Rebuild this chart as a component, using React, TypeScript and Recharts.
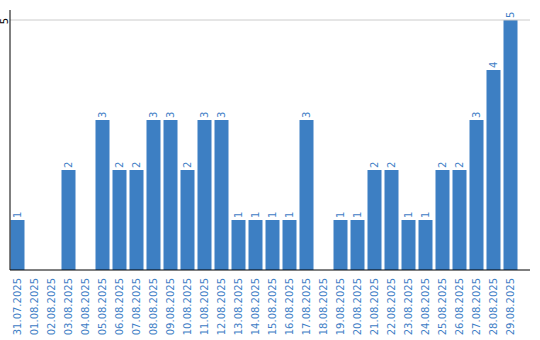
import {Bar, BarChart, LabelList, ReferenceLine, XAxis, YAxis} from 'recharts';

const dates = [
  '31.07.2025', '01.08.2025', '02.08.2025', '03.08.2025', '04.08.2025',
  '05.08.2025', '06.08.2025', '07.08.2025', '08.08.2025', '09.08.2025',
  '10.08.2025', '11.08.2025', '12.08.2025', '13.08.2025', '14.08.2025',
  '15.08.2025', '16.08.2025', '17.08.2025', '18.08.2025', '19.08.2025',
  '20.08.2025', '21.08.2025', '22.08.2025', '23.08.2025', '24.08.2025',
  '25.08.2025', '26.08.2025', '27.08.2025', '28.08.2025', '29.08.2025',
];
const counts = [1, 0, 0, 2, 0, 3, 2, 2, 3, 3, 2, 3, 3, 1, 1, 1, 1, 3, 0, 1, 1, 2, 2, 1, 1, 2, 2, 3, 4, 5];
const yTicks = [5];

const data = dates.map((date, i) => ({date, count: counts[i]}));

const BLUE = '#3d7fc3';
const TEXT = '#3f80c6';
const FONT = 'DejaVu Sans';

function XTick({x, y, payload}: any) {
  return (
    <text
      x={0}
      y={0}
      transform={`translate(${x + 3.5},${y}) rotate(-90)`}
      textAnchor="end"
      fill={TEXT}
      fontFamily={FONT}
      fontSize={10}
    >
      {payload.value}
    </text>
  );
}

function YTick({y, payload}: any) {
  return (
    <text
      x={0}
      y={0}
      transform={`translate(7.5,${y + 1}) rotate(-90)`}
      textAnchor="middle"
      fill="#000"
      fontFamily={FONT}
      fontSize={10}
    >
      {payload.value}
    </text>
  );
}

function BarValue({x, y, width, value}: any) {
  if (!value) return null;
  return (
    <text
      x={0}
      y={0}
      transform={`translate(${x + width / 2 + 3.5},${y - 2}) rotate(-90)`}
      textAnchor="start"
      fill={TEXT}
      fontFamily={FONT}
      fontSize={10}
    >
      {value}
    </text>
  );
}

export default function App() {
  return (
    <div style={{position: 'fixed', left: 0, top: 0, background: '#fff'}}>
      <BarChart
        width={540}
        height={340}
        data={data}
        margin={{top: 10, right: 10, bottom: 0, left: 0}}
        barSize={14}
      >
        <XAxis
          dataKey="date"
          interval={0}
          height={70}
          tickLine={false}
          axisLine={{stroke: '#000'}}
          padding={{left: -1.5, right: 11.5}}
          tick={<XTick />}
        />
        <YAxis
          width={10}
          domain={[0, 5.2]}
          ticks={yTicks}
          tickLine={false}
          axisLine={{stroke: '#000'}}
          tick={<YTick />}
        />
        <ReferenceLine y={5} stroke="#cccccc" />
        <Bar dataKey="count" fill={BLUE} isAnimationActive={false}>
          <LabelList dataKey="count" content={<BarValue />} />
        </Bar>
      </BarChart>
    </div>
  );
}
